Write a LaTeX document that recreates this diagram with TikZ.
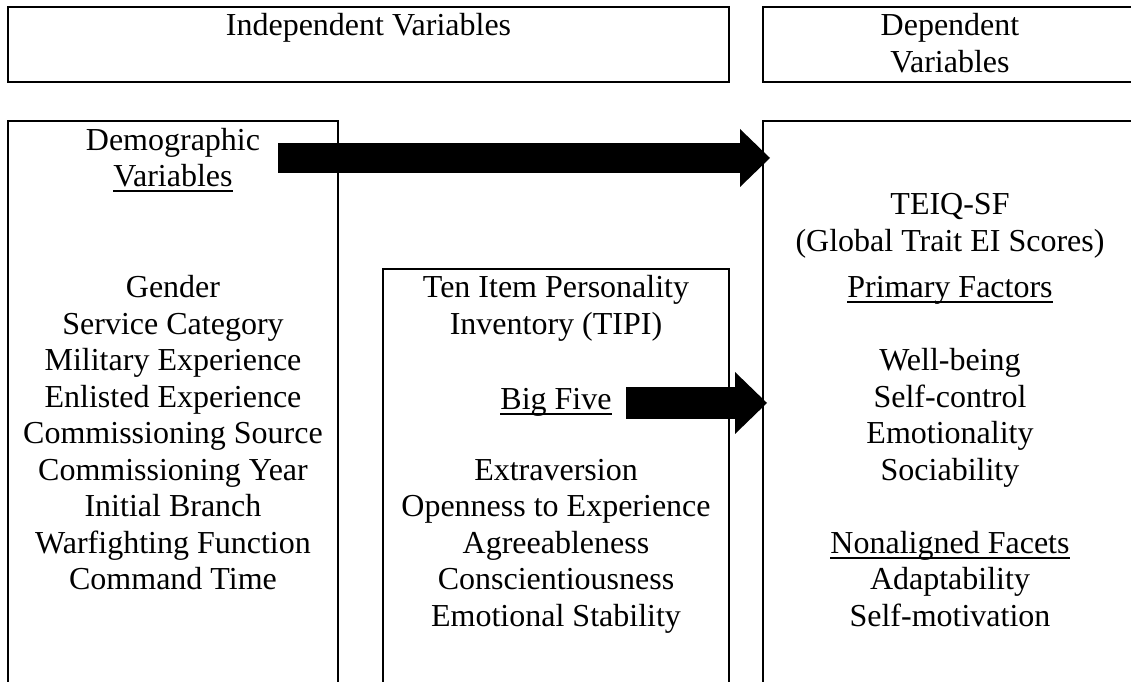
\documentclass[tikz,border=0pt]{standalone}
\usepackage{fontspec}
\setmainfont{Liberation Serif}
\usetikzlibrary{arrows.meta}

% underline the way a word processor does it
\newcommand{\undl}[1]{\setbox0=\hbox{#1}\rlap{\rule[-1.9pt]{\wd0}{0.7pt}}\box0}

\begin{document}
\begin{tikzpicture}[x=0.375pt, y=-0.375pt,
    boxline/.style={line width=0.75pt},
    lbl/.style={anchor=base, inner sep=0pt, font=\fontsize{12}{13.7}\selectfont},
    thinarrow/.style={line width=11.25pt, -{Triangle[length=11.25pt, width=21.75pt, line width=0pt]}},
    fatarrow/.style={line width=12pt, -{Triangle[length=12pt, width=23.25pt, line width=0pt]}}]
            \useasboundingbox (0,0) rectangle (1131,682);

            % Header boxes
            \draw[boxline] (8,7) rectangle (729,82);
            \draw[boxline] (763,7) rectangle (1137,82);
            \node[lbl] (indep) at (368.5,36) {Independent Variables};
            \node[lbl] (dep1) at (950,36) {Dependent};
            \node[lbl] (dep2) at (950,72.5) {Variables};

            % Open columns, running off the bottom
            \draw[boxline] (8,121) rectangle (338,720);
            \draw[boxline] (383,269) rectangle (729,720);
            \draw[boxline] (763,121) rectangle (1137,720);

            % Demographic column
            \node[lbl] (demo) at (173,150.5) {Demographic};
            \node[lbl] (demovar) at (173,187) {\undl{Variables}};
            \foreach \t [count=\i] in {Gender, Service Category, Military Experience,
                Enlisted Experience, Commissioning Source, Commissioning Year,
                Initial Branch, Warfighting Function, Command Time}
                \node[lbl] (dem\i) at (173,{298+36.5*(\i-1)}) {\t};

            % TIPI column
            \node[lbl] (tipi1) at (556,298) {Ten Item Personality};
            \node[lbl] (tipi2) at (556,334.5) {Inventory (TIPI)};
            \node[lbl] (bigfive) at (556,410) {\undl{Big Five}};
            \foreach \t [count=\i] in {Extraversion, Openness to Experience,
                Agreeableness, Conscientiousness, Emotional Stability}
                \node[lbl] (big\i) at (556,{480.5+36.5*(\i-1)}) {\t};

            % TEIQue column
            \node[lbl] (teiq) at (950,215) {TEIQ-SF};
            \node[lbl] (global) at (950,251.5) {(Global Trait EI Scores)};
            \node[lbl] (primary) at (950,298) {\undl{Primary Factors}};
            \foreach \t [count=\i] in {Well-being, Self-control, Emotionality, Sociability}
                \node[lbl] (fac\i) at (950,{371+36.5*(\i-1)}) {\t};
            \node[lbl] (nonal) at (950,553.5) {\undl{Nonaligned Facets}};
            \node[lbl] (adapt) at (950,590) {Adaptability};
            \node[lbl] (selfmot) at (950,626.5) {Self-motivation};

            % Block arrows into the dependent column
            \coordinate (demoout) at (278,158);
            \coordinate (demoin) at (770,158);
            \coordinate (bigout) at (626,403);
            \coordinate (bigin) at (767,403);
            \draw[thinarrow] (demoout) -- (demoin);
            \draw[fatarrow] (bigout) -- (bigin);

\end{tikzpicture}
\end{document}
